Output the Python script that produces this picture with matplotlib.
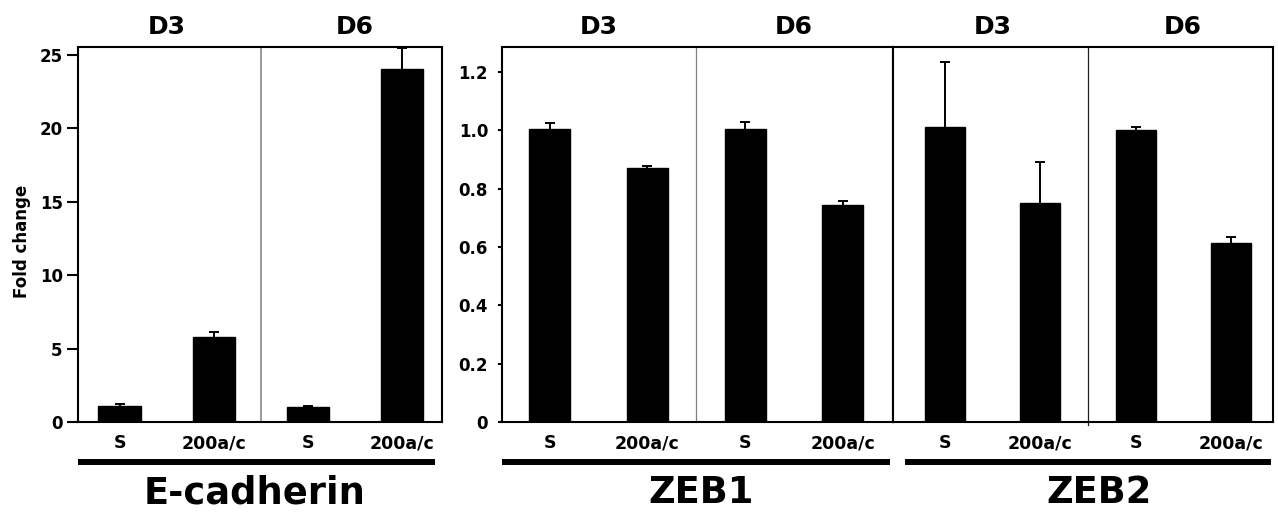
import numpy as np
import matplotlib
matplotlib.use("Agg")
import matplotlib.pyplot as plt
from matplotlib.lines import Line2D

# ---------------- data ----------------
days = ["D3", "D6"]
tick_labels = ["S", "200a/c", "S", "200a/c"]
genes = ["E-cadherin", "ZEB1", "ZEB2"]

ecad_mean = [1.11, 5.77, 1.00, 24.05]
ecad_err = [0.13, 0.34, 0.09, 1.40]
zeb1_mean = [1.004, 0.871, 1.004, 0.742]
zeb1_err = [0.022, 0.005, 0.023, 0.015]
zeb2_mean = [1.011, 0.751, 0.999, 0.615]
zeb2_err = [0.224, 0.140, 0.012, 0.020]

ecad_yticks = [0, 5, 10, 15, 20, 25]
ecad_yticklabels = ["0", "5", "10", "15", "20", "25"]
zeb_yticks = [0, 0.2, 0.4, 0.6, 0.8, 1.0, 1.2]
zeb_yticklabels = ["0", "0.2", "0.4", "0.6", "0.8", "1.0", "1.2"]

# ---------------- layout ----------------
W, H = 1278, 512
fig = plt.figure(figsize=(W / 100, H / 100), dpi=100)
plt.rcParams['font.family'] = ['DejaVu Sans']
plt.rcParams['font.weight'] = 'bold'


def rect(x0, y0, x1, y1):
    return [x0 / W, 1 - y1 / H, (x1 - x0) / W, (y1 - y0) / H]


ax1 = fig.add_axes(rect(78, 47, 442, 422))
ax2 = fig.add_axes(rect(502, 47, 893, 422))
ax3 = fig.add_axes(rect(893, 47, 1273, 422), sharey=ax2)

panels = [
    (ax1, ecad_mean, ecad_err, (-0.442, 3.426), 0.45, '#808080', 1.1, 0.0),
    (ax2, zeb1_mean, zeb1_err, (-0.486, 3.512), 0.42, '#808080', 0.9, 0.0),
    (ax3, zeb2_mean, zeb2_err, (-0.546, 3.442), 0.42, '#202020', 0.9, -0.008),
]

for ax, mean, err, xl, bw, dcol, dlw, dmin in panels:
    x = np.arange(len(mean))
    ax.bar(x, mean, width=bw, color='black', edgecolor='black', zorder=2)
    eb = ax.errorbar(x, mean, yerr=[np.zeros(len(err)), err], fmt='none',
                     ecolor='black', elinewidth=1.4, capsize=3.8,
                     capthick=1.4, zorder=3)
    # hide the lower caps (upper-only error bars)
    for cl in eb[1]:
        if np.allclose(cl.get_ydata(), mean):
            cl.set_visible(False)
    ax.set_xlim(*xl)
    ax.axvline(1.5, ymin=dmin, ymax=1, color=dcol, lw=dlw, zorder=1,
               clip_on=False)
    ax.set_xticks(x)
    ax.set_xticklabels(tick_labels, fontsize=12.5, fontweight='bold')
    ax.tick_params(axis='x', length=0, pad=9)
    for s in ax.spines.values():
        s.set_linewidth(1.5)
        s.set_color('black')
    # day headers
    for i, d in enumerate(days):
        ax.text(0.5 + 2 * i, 1.0 + 8 / 375, d,
                transform=ax.get_xaxis_transform(),
                ha='center', va='bottom', fontsize=18, fontweight='bold')

ax1.set_ylim(0, 25.54)
ax1.set_yticks(ecad_yticks)
ax1.set_yticklabels(ecad_yticklabels, fontsize=12, fontweight='bold')
ax1.tick_params(axis='y', length=8, width=1.5, pad=3)

ax2.set_ylim(0, 1.285)
ax2.set_yticks(zeb_yticks)
ax2.set_yticklabels(zeb_yticklabels, fontsize=12, fontweight='bold')
ax2.tick_params(axis='y', length=3, width=1.5, pad=7)
ax3.tick_params(axis='y', left=False, labelleft=False)

fig.text(22 / W, 1 - 241 / H, "Fold change", rotation=90, ha='center',
         va='center', fontsize=12, fontweight='bold')

# group underline bars and gene names
bars_px = [(78, 435), (502, 890), (905, 1271)]
name_x = [255, 701.5, 1099.5]
for (x0, x1), nx, g in zip(bars_px, name_x, genes):
    fig.add_artist(Line2D([x0 / W, x1 / W], [1 - 462 / H, 1 - 462 / H],
                          color='black', lw=4.3, solid_capstyle='butt'))
    fig.text(nx / W, 1 - 503 / H, g, ha='center', va='baseline',
             fontsize=26.5, fontweight='bold')

fig.savefig("out.png", dpi=100)
